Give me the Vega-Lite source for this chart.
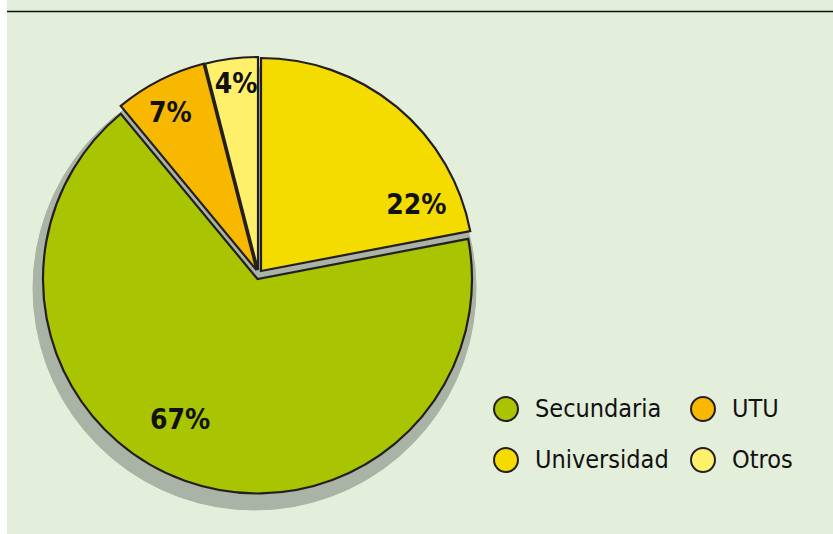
{
  "$schema": "https://vega.github.io/schema/vega-lite/v6.json",
  "width": 500,
  "height": 520,
  "autosize": {"type": "none"},
  "padding": {"left": 8, "top": 11, "right": 325, "bottom": 3},
  "background": "#e3eedb",
  "view": {"stroke": null},
  "data": {"values": [
    {"nivel": "Universidad", "share": 0.22, "orden": 1},
    {"nivel": "Secundaria", "share": 0.67, "orden": 2},
    {"nivel": "UTU", "share": 0.07, "orden": 3},
    {"nivel": "Otros", "share": 0.04, "orden": 4}
  ]},
  "layer": [
    {
      "data": {"values": [{}]},
      "mark": {"type": "rule", "stroke": "#ffffff", "strokeWidth": 7},
      "encoding": {"x": {"value": -4.5}, "y": {"value": -11}, "y2": {"value": 523}}
    },
    {
      "data": {"values": [{}]},
      "mark": {"type": "rule", "stroke": "#111111", "strokeWidth": 1.6},
      "encoding": {"x": {"value": -1}, "x2": {"value": 826}, "y": {"value": 0.5}}
    },
    {
      "mark": {"type": "arc", "radius": 221.5, "fill": "#a9b3a6", "stroke": "#a9b3a6", "strokeWidth": 1, "xOffset": -3.5, "yOffset": 17.5},
      "encoding": {
        "theta": {"field": "share", "type": "quantitative", "stack": true},
        "order": {"field": "orden", "type": "quantitative"}
      }
    },
    {
      "encoding": {
        "theta": {"field": "share", "type": "quantitative", "stack": true},
        "order": {"field": "orden", "type": "quantitative"},
        "opacity": {"condition": {"test": "datum.nivel === 'Universidad'", "value": 1}, "value": 0}
      },
      "layer": [
        {
          "mark": {"type": "arc", "radius": 213, "stroke": "#231f20", "strokeWidth": 2.2, "xOffset": 3, "yOffset": 0},
          "encoding": {"color": {"field": "nivel", "type": "nominal",
            "scale": {"domain": ["Secundaria", "Universidad", "UTU", "Otros"], "range": ["#a9c400", "#f5dc00", "#f8b800", "#fff06b"]},
            "legend": {"title": null, "orient": "none", "legendX": 485, "legendY": 385, "columns": 2, "symbolType": "circle", "symbolSize": 573, "symbolStrokeColor": "#231f20", "symbolStrokeWidth": 2, "labelFont": "Liberation Sans Narrow, DejaVu Sans Condensed, sans-serif", "labelFontSize": 25, "labelColor": "#111111", "labelOffset": 16, "columnPadding": 18, "rowPadding": 19, "labelLimit": 300}}}
        },
        {
          "mark": {"type": "text", "radius": 170, "dx": 50, "dy": 66, "font": "Liberation Sans Narrow, DejaVu Sans Condensed, sans-serif", "fontWeight": "bold", "fontSize": 28, "fill": "#111111"},
          "encoding": {"text": {"field": "share", "type": "quantitative", "format": ".0%"}}
        }
      ]
    },
    {
      "encoding": {
        "theta": {"field": "share", "type": "quantitative", "stack": true},
        "order": {"field": "orden", "type": "quantitative"},
        "opacity": {"condition": {"test": "datum.nivel === 'Secundaria'", "value": 1}, "value": 0}
      },
      "layer": [
        {
          "mark": {"type": "arc", "radius": 214.5, "stroke": "#231f20", "strokeWidth": 2.2, "xOffset": -0.5, "yOffset": 8},
          "encoding": {"color": {"field": "nivel", "type": "nominal",
            "scale": {"domain": ["Secundaria", "Universidad", "UTU", "Otros"], "range": ["#a9c400", "#f5dc00", "#f8b800", "#fff06b"]}}}
        },
        {
          "mark": {"type": "text", "radius": 165, "dx": -22, "dy": -5, "font": "Liberation Sans Narrow, DejaVu Sans Condensed, sans-serif", "fontWeight": "bold", "fontSize": 28, "fill": "#111111"},
          "encoding": {"text": {"field": "share", "type": "quantitative", "format": ".0%"}}
        }
      ]
    },
    {
      "encoding": {
        "theta": {"field": "share", "type": "quantitative", "stack": true},
        "order": {"field": "orden", "type": "quantitative"},
        "opacity": {"condition": {"test": "datum.nivel === 'UTU'", "value": 1}, "value": 0}
      },
      "layer": [
        {
          "mark": {"type": "arc", "radius": 213, "stroke": "#231f20", "strokeWidth": 2.2, "xOffset": -1.5, "yOffset": -1},
          "encoding": {"color": {"field": "nivel", "type": "nominal",
            "scale": {"domain": ["Secundaria", "Universidad", "UTU", "Otros"], "range": ["#a9c400", "#f5dc00", "#f8b800", "#fff06b"]}}}
        },
        {
          "mark": {"type": "text", "radius": 180, "dx": -6, "dy": 3, "font": "Liberation Sans Narrow, DejaVu Sans Condensed, sans-serif", "fontWeight": "bold", "fontSize": 28, "fill": "#111111"},
          "encoding": {"text": {"field": "share", "type": "quantitative", "format": ".0%"}}
        }
      ]
    },
    {
      "encoding": {
        "theta": {"field": "share", "type": "quantitative", "stack": true},
        "order": {"field": "orden", "type": "quantitative"},
        "opacity": {"condition": {"test": "datum.nivel === 'Otros'", "value": 1}, "value": 0}
      },
      "layer": [
        {
          "mark": {"type": "arc", "radius": 213, "stroke": "#231f20", "strokeWidth": 2.2, "xOffset": 0, "yOffset": -1},
          "encoding": {"color": {"field": "nivel", "type": "nominal",
            "scale": {"domain": ["Secundaria", "Universidad", "UTU", "Otros"], "range": ["#a9c400", "#f5dc00", "#f8b800", "#fff06b"]}}}
        },
        {
          "mark": {"type": "text", "radius": 190, "dx": 2, "dy": 2.5, "font": "Liberation Sans Narrow, DejaVu Sans Condensed, sans-serif", "fontWeight": "bold", "fontSize": 28, "fill": "#111111"},
          "encoding": {"text": {"field": "share", "type": "quantitative", "format": ".0%"}}
        }
      ]
    }
  ]
}
